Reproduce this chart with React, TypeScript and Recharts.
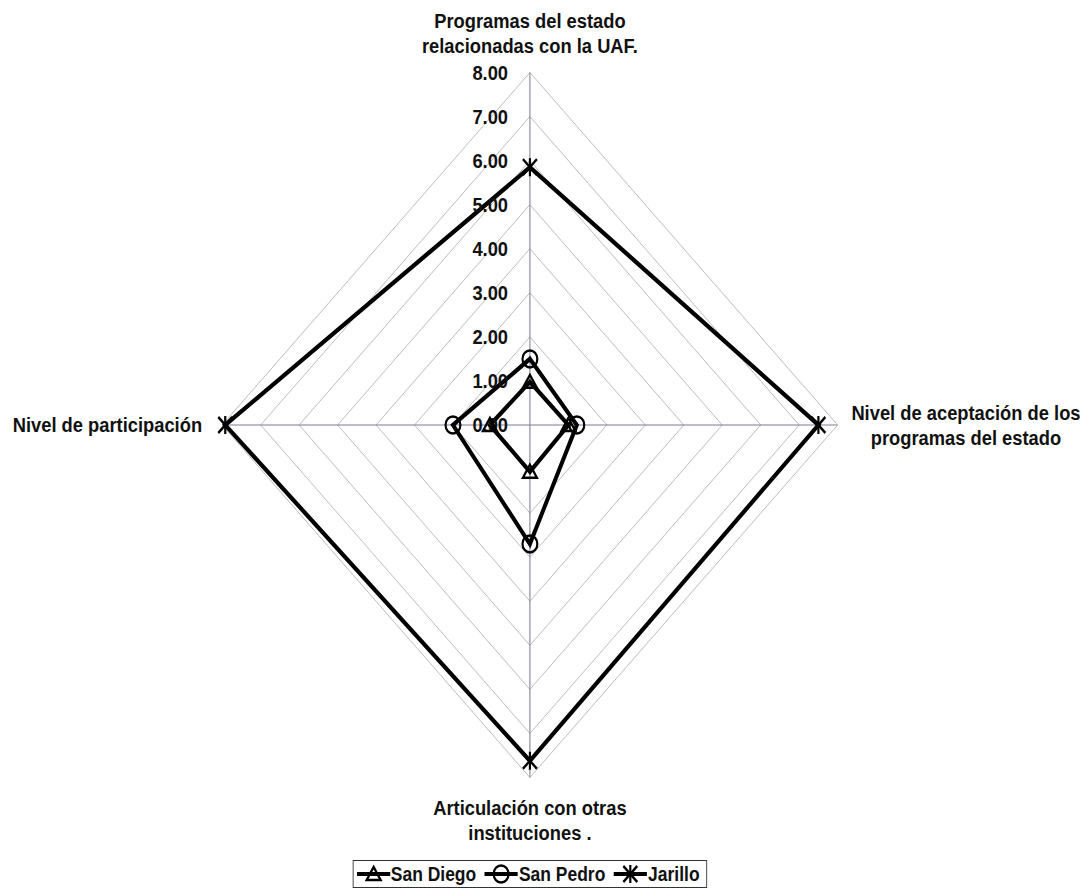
import { RadarChart, Radar, PolarGrid, PolarAngleAxis, PolarRadiusAxis, Legend } from 'recharts';

// the source image is squeezed horizontally, so the whole chart is drawn wide and scaled on x
const SQUEEZE = 0.873;
const W = 1249;
const H = 888;
const CX = 607;
const FONT = '"Liberation Sans", Arial, sans-serif';

const axisLabels = [
  ['Programas del estado', 'relacionadas con la UAF.'],
  ['Nivel de aceptación de los', 'programas del estado'],
  ['Articulación con otras', 'instituciones .'],
  ['Nivel de participación'],
];
const sanDiego = [0.98, 1.0, 1.06, 1.04];
const sanPedro = [1.5, 1.22, 2.7, 2.0];
const jarillo = [5.85, 7.5, 7.62, 7.92];
const radiusTicks = [0, 1, 2, 3, 4, 5, 6, 7, 8];

const seriesNames = ['San Diego', 'San Pedro', 'Jarillo'];
const seriesKeys = ['sd', 'sp', 'ja'];

const data = axisLabels.map((lines, i) => ({
  axis: lines.join(' '),
  idx: i,
  sd: sanDiego[i],
  sp: sanPedro[i],
  ja: jarillo[i],
}));

const Marker = ({ kind, x, y }: { kind: string; x: number; y: number }) => {
  if (kind === 'sd') {
    return (
      <polygon
        points={`${x},${y - 7} ${x - 8},${y + 6} ${x + 8},${y + 6}`}
        fill="none"
        stroke="#000"
        strokeWidth={2.5}
      />
    );
  }
  if (kind === 'sp') {
    return <circle cx={x} cy={y} r={8.5} fill="none" stroke="#000" strokeWidth={2.5} />;
  }
  return (
    <g stroke="#000" strokeWidth={2.5}>
      <line x1={x - 8} y1={y - 8} x2={x + 8} y2={y + 8} />
      <line x1={x - 8} y1={y + 8} x2={x + 8} y2={y - 8} />
      <line x1={x} y1={y - 9} x2={x} y2={y + 9} />
    </g>
  );
};

const makeDot = (kind: string) => (props: any) => (
  <Marker key={`${kind}-${props.index}`} kind={kind} x={props.cx} y={props.cy} />
);

const AngleTick = (props: any) => {
  const { x, y, index } = props;
  const lines = axisLabels[index] || [];
  let tx = x;
  let ty = y;
  let anchor: 'middle' | 'end' = 'middle';
  if (index === 0) ty = y - 44;
  if (index === 1) {
    tx = x + 139;
    ty = y - 12;
  }
  if (index === 2) ty = y + 22;
  if (index === 3) {
    tx = x - 15;
    anchor = 'end';
  }
  return (
    <text
      x={tx}
      y={ty}
      textAnchor={anchor}
      dominantBaseline="central"
      fontFamily={FONT}
      fontWeight="bold"
      fontSize={21}
      fill="#111"
    >
      {lines.map((l, i) => (
        <tspan key={i} x={tx} dy={i === 0 ? 0 : 25}>
          {l}
        </tspan>
      ))}
    </text>
  );
};

const RadiusTick = (props: any) => {
  const { x, y, payload } = props;
  return (
    <text
      x={x - 25}
      y={y}
      textAnchor="end"
      dominantBaseline="central"
      fontFamily={FONT}
      fontWeight="bold"
      fontSize={21}
      fill="#111"
    >
      {Number(payload.value).toFixed(2)}
    </text>
  );
};

const LegendIcon = ({ kind }: { kind: string }) => (
  <svg width={40} height={20} style={{ display: 'block' }}>
    <line x1={1} y1={10} x2={39} y2={10} stroke="#000" strokeWidth={4} />
    <Marker kind={kind} x={20} y={10} />
  </svg>
);

const LegendBox = () => (
  <div style={{ display: 'flex', justifyContent: 'center' }}>
    <div
      style={{
        display: 'flex',
        alignItems: 'center',
        border: '1.5px solid #333',
        height: 26,
        padding: '0 8px 0 3px',
        fontFamily: FONT,
        fontWeight: 'bold',
        fontSize: 20,
        color: '#111',
        background: '#fff',
      }}
    >
      {seriesNames.map((n, i) => (
        <div key={n} style={{ display: 'flex', alignItems: 'center', marginRight: i < 2 ? 9 : 0 }}>
          <LegendIcon kind={seriesKeys[i]} />
          <span>{n}</span>
        </div>
      ))}
    </div>
  </div>
);

export default function App() {
  return (
    <div
      style={{
        position: 'absolute',
        left: 0,
        top: 0,
        width: W,
        height: H,
        background: '#fff',
        transform: `scaleX(${SQUEEZE})`,
        transformOrigin: '0 0',
      }}
    >
      <RadarChart
        width={W}
        height={H}
        data={data}
        cx={CX}
        cy={425}
        outerRadius={352.5}
        margin={{ top: 0, right: 0, bottom: 0, left: 0 }}
      >
        <PolarGrid gridType="polygon" radialLines={false} stroke="#b8b8b8" strokeWidth={1} />
        <PolarGrid gridType="polygon" polarRadius={[]} stroke="#7c7c94" strokeWidth={1.2} />
        <PolarRadiusAxis
          angle={90}
          domain={[0, 8]}
          ticks={radiusTicks as any}
          tickCount={9}
          axisLine={false}
          tickLine={false}
          tick={RadiusTick}
        />
        <PolarAngleAxis dataKey="axis" tick={AngleTick} tickLine={false} axisLine={false} />
        {seriesKeys.map((k, i) => (
          <Radar
            key={k}
            name={seriesNames[i]}
            dataKey={k}
            stroke="#000"
            strokeWidth={4.5}
            fill="none"
            fillOpacity={0}
            dot={makeDot(k)}
            isAnimationActive={false}
          />
        ))}
        <Legend
          content={LegendBox}
          wrapperStyle={{ left: 0, top: 860, bottom: 'auto', width: CX * 2 }}
        />
      </RadarChart>
    </div>
  );
}
